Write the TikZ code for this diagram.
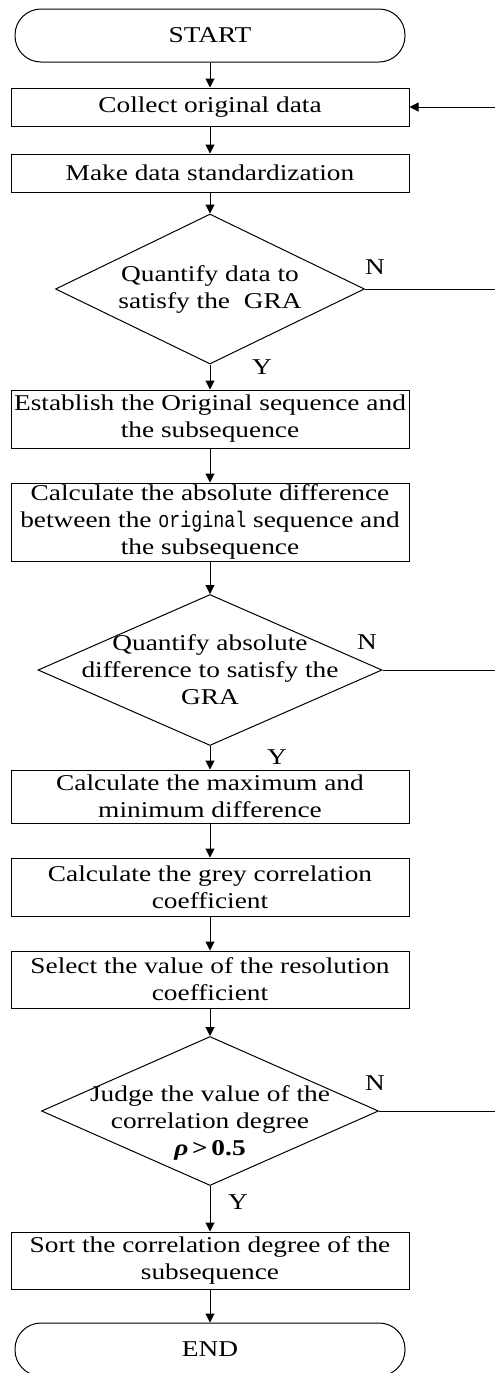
\documentclass[tikz,border=0pt]{standalone}
\usepackage{fontspec}
\setmainfont{Liberation Serif}[FakeStretch=1.21]
\newfontfamily\origfont{Liberation Mono}[FakeStretch=0.81]
\usetikzlibrary{arrows.meta,shapes.geometric}
\begin{document}
\begin{tikzpicture}[x=0.5pt, y=-0.5pt, line width=0.5pt,
  every node/.style={font=\fontsize{11.3}{13.5}\selectfont},
  term/.style={draw, rounded corners=13pt, minimum width=195pt, minimum height=26.5pt},
  proc/.style={draw, align=center, minimum width=199pt, inner sep=0pt},
  decision/.style={draw, diamond, inner sep=0pt},
  dtext/.style={align=center, inner sep=0pt},
  arr/.style={-{Triangle[length=4.5pt, width=4.5pt]}}]
\useasboundingbox (0,0) rectangle (495,1373);
\node[term] (start) at (210,35.5) {START};
\node[proc, minimum height=19pt] (collect) at (210,107) {Collect original data};
\node[proc, minimum height=19pt] (stand) at (210,173) {Make data standardization};
\node[decision, minimum width=154.5pt, minimum height=75pt] (gra1) at (210,289) {};
\node[dtext] (gra1t) at (gra1) {Quantify data to\\satisfy the\ \ GRA};
\node[proc, minimum height=29pt] (seq) at (210,419) {Establish the Original sequence and\\the subsequence};
\node[proc, minimum height=39pt] (absdiff) at (210,522) {Calculate the absolute difference\\between the {\origfont original} sequence and\\the subsequence};
\node[decision, minimum width=172pt, minimum height=75.5pt] (gra2) at (210,670) {};
\node[dtext] (gra2t) at (gra2) {Quantify absolute\\difference to satisfy the\\GRA};
\node[proc, minimum height=26.5pt] (maxmin) at (210,796.5) {Calculate the maximum and\\minimum difference};
\node[proc, minimum height=29pt] (coef) at (210,887) {Calculate the grey correlation\\coefficient};
\node[proc, minimum height=28.5pt] (resol) at (210,979.5) {Select the value of the resolution\\coefficient};
\node[decision, minimum width=168.5pt, minimum height=74.5pt] (judge) at (210,1111) {};
\node[dtext] (judget) at (210,1123) {Judge the value of the\\correlation degree\\{\bfseries\itshape ρ}\,{\bfseries>\,0.5}};
\node[proc, minimum height=28.5pt] (sort) at (210,1260.5) {Sort the correlation degree of the\\subsequence};
\node[term] (end) at (210,1349.5) {END};
% yes / no labels
\node (no1) at (375,267) {N};
\node (yes1) at (262,367) {Y};
\node (no2) at (367,642) {N};
\node (yes2) at (277,757) {Y};
\node (no3) at (375,1083) {N};
\node (yes3) at (238,1202) {Y};
% main flow
\draw[arr] (start) -- (collect);
\draw[arr] (collect) -- (stand);
\draw[arr] (stand) -- (gra1);
\draw[arr] (gra1) -- (seq);
\draw[arr] (seq) -- (absdiff);
\draw[arr] (absdiff) -- (gra2);
\draw[arr] (gra2) -- (maxmin);
\draw[arr] (maxmin) -- (coef);
\draw[arr] (coef) -- (resol);
\draw[arr] (resol) -- (judge);
\draw[arr] (judge) -- (sort);
\draw[arr] (sort) -- (end);
% branches to the right edge
\coordinate (back) at (495,107);
\coordinate (out1) at (495,289);
\coordinate (out2) at (495,670);
\coordinate (out3) at (495,1111);
\draw[arr] (back) -- (collect);
\draw (gra1) -- (out1);
\draw (gra2) -- (out2);
\draw (judge) -- (out3);
\end{tikzpicture}
\end{document}
